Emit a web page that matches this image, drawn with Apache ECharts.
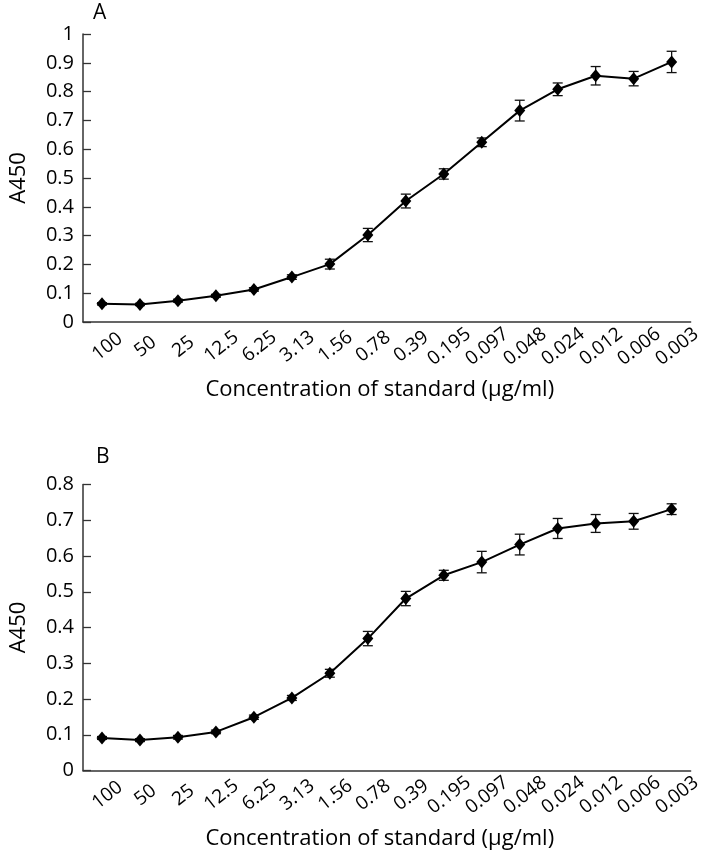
<!DOCTYPE html>
<html>
<head>
<meta charset="utf-8">
<script src="https://cdn.jsdelivr.net/npm/echarts@6/dist/echarts.min.js"></script>
<style>
html,body{margin:0;padding:0;background:#fff;}
#chart{width:704px;height:853px;}
</style>
</head>
<body>
<div id="chart"></div>
<script>
var categories = ['100','50','25','12.5','6.25','3.13','1.56','0.78','0.39','0.195','0.097','0.048','0.024','0.012','0.006','0.003'];
var valuesA = [0.063, 0.061, 0.074, 0.091, 0.113, 0.156, 0.201, 0.302, 0.420, 0.514, 0.624, 0.734, 0.808, 0.855, 0.845, 0.903];
var errorsA = [0.004, 0.004, 0.005, 0.005, 0.006, 0.008, 0.017, 0.023, 0.024, 0.018, 0.015, 0.036, 0.022, 0.032, 0.025, 0.037];
var valuesB = [0.091, 0.085, 0.093, 0.108, 0.149, 0.203, 0.272, 0.369, 0.481, 0.546, 0.583, 0.632, 0.677, 0.691, 0.697, 0.731];
var errorsB = [0.004, 0.004, 0.005, 0.005, 0.006, 0.007, 0.011, 0.020, 0.020, 0.014, 0.030, 0.029, 0.028, 0.025, 0.022, 0.015];
var yMaxA = 1, yMaxB = 0.8, yStep = 0.1;
var xTitle = 'Concentration of standard (\u00b5g/ml)';
var yTitle = 'A450';
var panelLabels = ['A', 'B'];

var FONT = 'Open Sans';
var INK = '#000';

function errData(vals, errs) {
  return vals.map(function (v, i) { return [i, v - errs[i], v + errs[i]]; });
}

function renderErr(params, api) {
  var x = api.value(0);
  var lo = api.coord([x, api.value(1)]);
  var hi = api.coord([x, api.value(2)]);
  var hw = 5;
  var style = { stroke: '#111', lineWidth: 1.3, fill: null };
  return {
    type: 'group',
    children: [
      { type: 'line', shape: { x1: lo[0], y1: lo[1], x2: hi[0], y2: hi[1] }, style: style },
      { type: 'line', shape: { x1: lo[0] - hw, y1: lo[1], x2: lo[0] + hw, y2: lo[1] }, style: style },
      { type: 'line', shape: { x1: hi[0] - hw, y1: hi[1], x2: hi[0] + hw, y2: hi[1] }, style: style }
    ]
  };
}

function xAxisDef(gi) {
  return {
    type: 'category',
    gridIndex: gi,
    data: categories,
    boundaryGap: true,
    axisLine: { lineStyle: { color: '#333', width: 1.5 } },
    axisTick: { inside: true, length: 8, lineStyle: { color: '#333', width: 1.3 } },
    axisLabel: {
      rotate: 38, interval: 0, margin: 29,
      align: 'center', verticalAlign: 'middle',
      padding: [0, 0, 0, 14],
      fontFamily: FONT, fontSize: 19, color: INK
    },
    name: xTitle,
    nameLocation: 'middle',
    nameGap: 57,
    nameTextStyle: { fontFamily: FONT, fontSize: 22, color: INK, padding: [0, 14, 0, 0] }
  };
}

function yAxisDef(gi, max) {
  return {
    type: 'value',
    gridIndex: gi,
    min: 0, max: max, interval: yStep,
    splitLine: { show: false },
    axisLine: { show: true, lineStyle: { color: '#333', width: 1.5 } },
    axisTick: { show: true, inside: true, length: 8, lineStyle: { color: '#333', width: 1.3 } },
    axisLabel: {
      margin: 9, fontFamily: FONT, fontSize: 20, color: INK,
      formatter: function (v) { return String(Math.round(v * 10) / 10); }
    },
    name: yTitle,
    nameLocation: 'middle',
    nameRotate: 90,
    nameGap: 53,
    nameTextStyle: { fontFamily: FONT, fontSize: 22, color: INK }
  };
}

function lineSeries(gi, vals) {
  return {
    type: 'line', xAxisIndex: gi, yAxisIndex: gi,
    data: vals,
    symbol: 'diamond', symbolSize: [11, 13],
    itemStyle: { color: INK },
    lineStyle: { color: INK, width: 2 },
    z: 3, animation: false
  };
}

function errSeries(gi, vals, errs) {
  return {
    type: 'custom', xAxisIndex: gi, yAxisIndex: gi,
    data: errData(vals, errs),
    encode: { x: 0, y: [1, 2] },
    renderItem: renderErr,
    z: 2, animation: false
  };
}

var chart = echarts.init(document.getElementById('chart'), null, { renderer: 'canvas' });
chart.setOption({
  backgroundColor: '#fff',
  animation: false,
  title: [
    { text: panelLabels[0], left: 88, top: -2, textStyle: { fontFamily: FONT, fontSize: 21, fontWeight: 'normal', color: INK } },
    { text: panelLabels[1], left: 91, top: 442, textStyle: { fontFamily: FONT, fontSize: 21, fontWeight: 'normal', color: INK } }
  ],
  grid: [
    { left: 74, top: 34, width: 622, height: 288 },
    { left: 74, top: 484.5, width: 622, height: 286 }
  ],
  xAxis: [xAxisDef(0), xAxisDef(1)],
  yAxis: [yAxisDef(0, yMaxA), yAxisDef(1, yMaxB)],
  series: [
    errSeries(0, valuesA, errorsA),
    lineSeries(0, valuesA),
    errSeries(1, valuesB, errorsB),
    lineSeries(1, valuesB)
  ]
});
</script>
</body>
</html>
